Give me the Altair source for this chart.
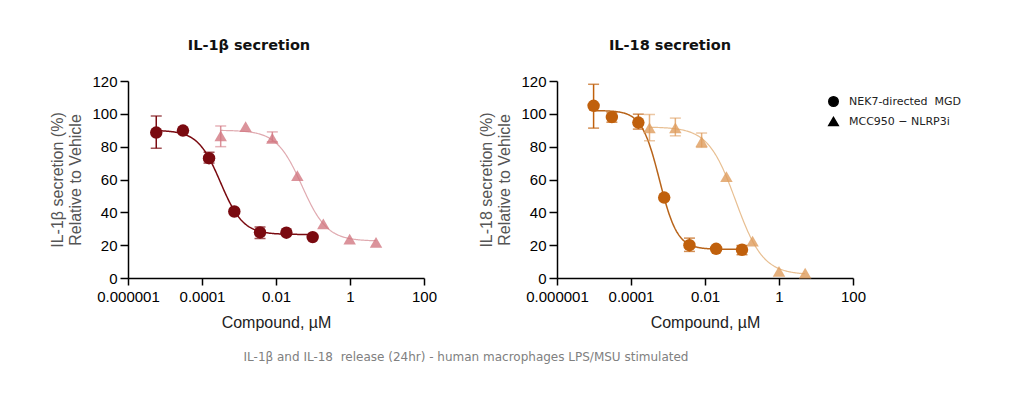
import altair as alt
import pandas as pd
import math

COMPOUNDS = ["NEK7-directed\u00a0 MGD", "MCC950 − NLRP3i"]
SHAPES = ["circle", "triangle-up"]

X_TICKS = [0.000001, 0.0001, 0.01, 1, 100]
X_TICK_LABELS = ["0.000001", "0.0001", "0.01", "1", "100"]
Y_TICKS = [0, 20, 40, 60, 80, 100, 120]

# ---- IL-1beta panel ----
IL1B_NEK7_X = [0.0000058, 0.0000306, 0.000155, 0.000748, 0.0037, 0.0191, 0.098]
IL1B_NEK7_Y = [88.6, 89.8, 73.0, 40.5, 27.8, 27.6, 24.9]
IL1B_NEK7_LO = [79.0, None, 70.0, None, 24.1, None, None]
IL1B_NEK7_HI = [98.7, None, 76.6, None, 31.0, None, None]

IL1B_MCC_X = [0.00032, 0.00151, 0.00796, 0.0378, 0.19, 0.98, 5.05]
IL1B_MCC_Y = [86.6, 92.2, 85.1, 62.4, 33.0, 23.7, 21.7]
IL1B_MCC_LO = [80.0, None, 83.0, None, None, None, None]
IL1B_MCC_HI = [92.6, None, 89.0, None, None, None, None]

# fitted 4PL parameters: top, bottom, logIC50, hill
IL1B_NEK7_FIT = [90.0, 26.5, -3.5, 1.42]
IL1B_MCC_FIT = [90.0, 22.5, -1.30, 1.27]

# ---- IL-18 panel ----
IL18_NEK7_X = [0.00000975, 0.0000304, 0.000158, 0.00079, 0.0038, 0.02, 0.1]
IL18_NEK7_Y = [104.9, 98.0, 94.7, 49.0, 20.0, 17.8, 17.2]
IL18_NEK7_LO = [91.3, 94.9, 90.7, None, 16.2, None, 14.2]
IL18_NEK7_HI = [118.0, 100.6, 99.8, None, 24.3, None, 19.8]

IL18_MCC_X = [0.000316, 0.00158, 0.0081, 0.038, 0.193, 1.0, 5.1]
IL18_MCC_Y = [91.5, 91.5, 83.0, 61.7, 22.5, 4.0, 3.0]
IL18_MCC_LO = [83.6, 86.6, 79.6, None, None, None, None]
IL18_MCC_HI = [99.6, 97.4, 88.3, None, None, None, None]

IL18_NEK7_FIT = [102.0, 17.5, -3.23, 1.8]
IL18_MCC_FIT = [92.0, 2.0, -1.17, 1.17]

IL1B_COLORS = ["#7a0a10", "rgba(210,120,130,0.8)"]
IL1B_LINES = ["#7a0a10", "#e0aab0"]
IL18_COLORS = ["#c0600c", "rgba(222,156,92,0.8)"]
IL18_LINES = ["#b8641a", "#e8bf92"]

CAPTION = "IL-1β and IL-18\u00a0 release (24hr) - human macrophages LPS/MSU stimulated"

label_expr = "[" + ",".join("'%s'" % s for s in X_TICK_LABELS) + "][round(log(datum.value)/LN10)/2+3]"

xscale = alt.Scale(type="log", domain=[X_TICKS[0], X_TICKS[-1]])
yscale = alt.Scale(domain=[0, 120])


def xenc(field):
    return alt.X(f"{field}:Q", scale=xscale,
                 axis=alt.Axis(values=X_TICKS, labelExpr=label_expr, title="Compound, µM",
                               titleColor="#222222", tickSize=7, labelPadding=4, titlePadding=10,
                               labelOverlap=False, labelFlush=False))


def yenc(field, title):
    return alt.Y(f"{field}:Q", scale=yscale,
                 axis=alt.Axis(values=Y_TICKS, title=title, titleColor="#555555", tickSize=8,
                               titlePadding=8, labelPadding=3))


def curve(xs, fit, color, width, ytitle):
    t, b, c, h = fit
    lo = math.log10(xs[0])
    hi = math.log10(xs[-1])
    return alt.Chart(alt.sequence(start=lo, stop=hi + 0.01, step=0.02, as_="lx")).transform_calculate(
        conc="pow(10, datum.lx)",
        resp=f"{b} + ({t} - {b}) / (1 + pow(10, (datum.lx - ({c})) * {h}))",
    ).mark_line(color=color, strokeWidth=width).encode(x=xenc("conc"), y=yenc("resp", ytitle))


def panel(title, title_dx, ytitle, series, fits, colors, lines, show_legend):
    rows = []
    for comp, (xs, ys, los, his) in zip(COMPOUNDS, series):
        for x, y, lo, hi in zip(xs, ys, los, his):
            rows.append({"compound": comp, "conc": x, "resp": y, "lo": lo, "hi": hi})
    df = pd.DataFrame(rows)
    err = df.dropna(subset=["lo"])

    # color domain listed in reverse order so that it is not merged with the shape legend
    color = alt.Color("compound:N", scale=alt.Scale(domain=COMPOUNDS[::-1], range=colors[::-1]),
                      legend=None)
    if show_legend:
        legend = alt.Legend(title=None, orient="none", legendX=271, legendY=15,
                            symbolFillColor="black", symbolStrokeColor="black", symbolOpacity=1,
                            labelFont="DejaVu Sans", labelFontSize=11, labelColor="#222222",
                            symbolSize=90, rowPadding=4, labelOffset=10)
        shape = alt.Shape("compound:N", scale=alt.Scale(domain=COMPOUNDS, range=SHAPES), legend=legend)
    else:
        shape = alt.Shape("compound:N", scale=alt.Scale(domain=COMPOUNDS, range=SHAPES), legend=None)

    curves = [curve(series[i][0], fits[i], lines[i], w, ytitle) for i, w in enumerate([1.5, 1.2])]

    ebase = alt.Chart(err).encode(x=xenc("conc"), color=color)
    rule = ebase.mark_rule(strokeWidth=1.5).encode(y=yenc("lo", ytitle), y2="hi")
    cap_lo = ebase.mark_tick(orient="horizontal", size=11, thickness=1.5).encode(y=yenc("lo", ytitle))
    cap_hi = ebase.mark_tick(orient="horizontal", size=11, thickness=1.5).encode(y=yenc("hi", ytitle))

    pts = alt.Chart(df).mark_point(filled=True, size=155, opacity=1).encode(
        x=xenc("conc"), y=yenc("resp", ytitle), color=color, shape=shape)

    return alt.layer(*curves, rule, cap_lo, cap_hi, pts).properties(
        width=296, height=197,
        title=alt.Title(title, font="DejaVu Sans", fontSize=14.5, fontWeight="bold", color="#111111",
                        frame="group", anchor="middle", offset=21, dx=title_dx),
    )


left = panel("IL-1β secretion", -27, ["IL-1β secretion (%)", "Relative to Vehicle"],
             [(IL1B_NEK7_X, IL1B_NEK7_Y, IL1B_NEK7_LO, IL1B_NEK7_HI),
              (IL1B_MCC_X, IL1B_MCC_Y, IL1B_MCC_LO, IL1B_MCC_HI)],
             [IL1B_NEK7_FIT, IL1B_MCC_FIT], IL1B_COLORS, IL1B_LINES, False)
right = panel("IL-18 secretion", -35, ["IL-18 secretion (%)", "Relative to Vehicle"],
              [(IL18_NEK7_X, IL18_NEK7_Y, IL18_NEK7_LO, IL18_NEK7_HI),
               (IL18_MCC_X, IL18_MCC_Y, IL18_MCC_LO, IL18_MCC_HI)],
              [IL18_NEK7_FIT, IL18_MCC_FIT], IL18_COLORS, IL18_LINES, True)

chart = alt.hconcat(left, right, spacing=41).resolve_scale(
    color="independent", shape="independent"
).resolve_legend(shape="independent").properties(
    padding={"left": 41, "top": 29, "right": 5, "bottom": 5},
    title=alt.Title(CAPTION,
                    orient="bottom", anchor="middle", font="DejaVu Sans", fontSize=12,
                    fontWeight="normal", color="#808080", offset=22, dx=-40),
).configure_view(stroke=None).configure_axis(
    grid=False, domainColor="black", tickColor="black", labelColor="black",
    labelFont="Liberation Sans", labelFontSize=15, titleFont="Liberation Sans",
    titleFontSize=16, titleFontWeight="normal", domainWidth=1.5, tickWidth=1.5,
)

chart.save("out.html", embed_options={"renderer": "svg", "actions": False})
